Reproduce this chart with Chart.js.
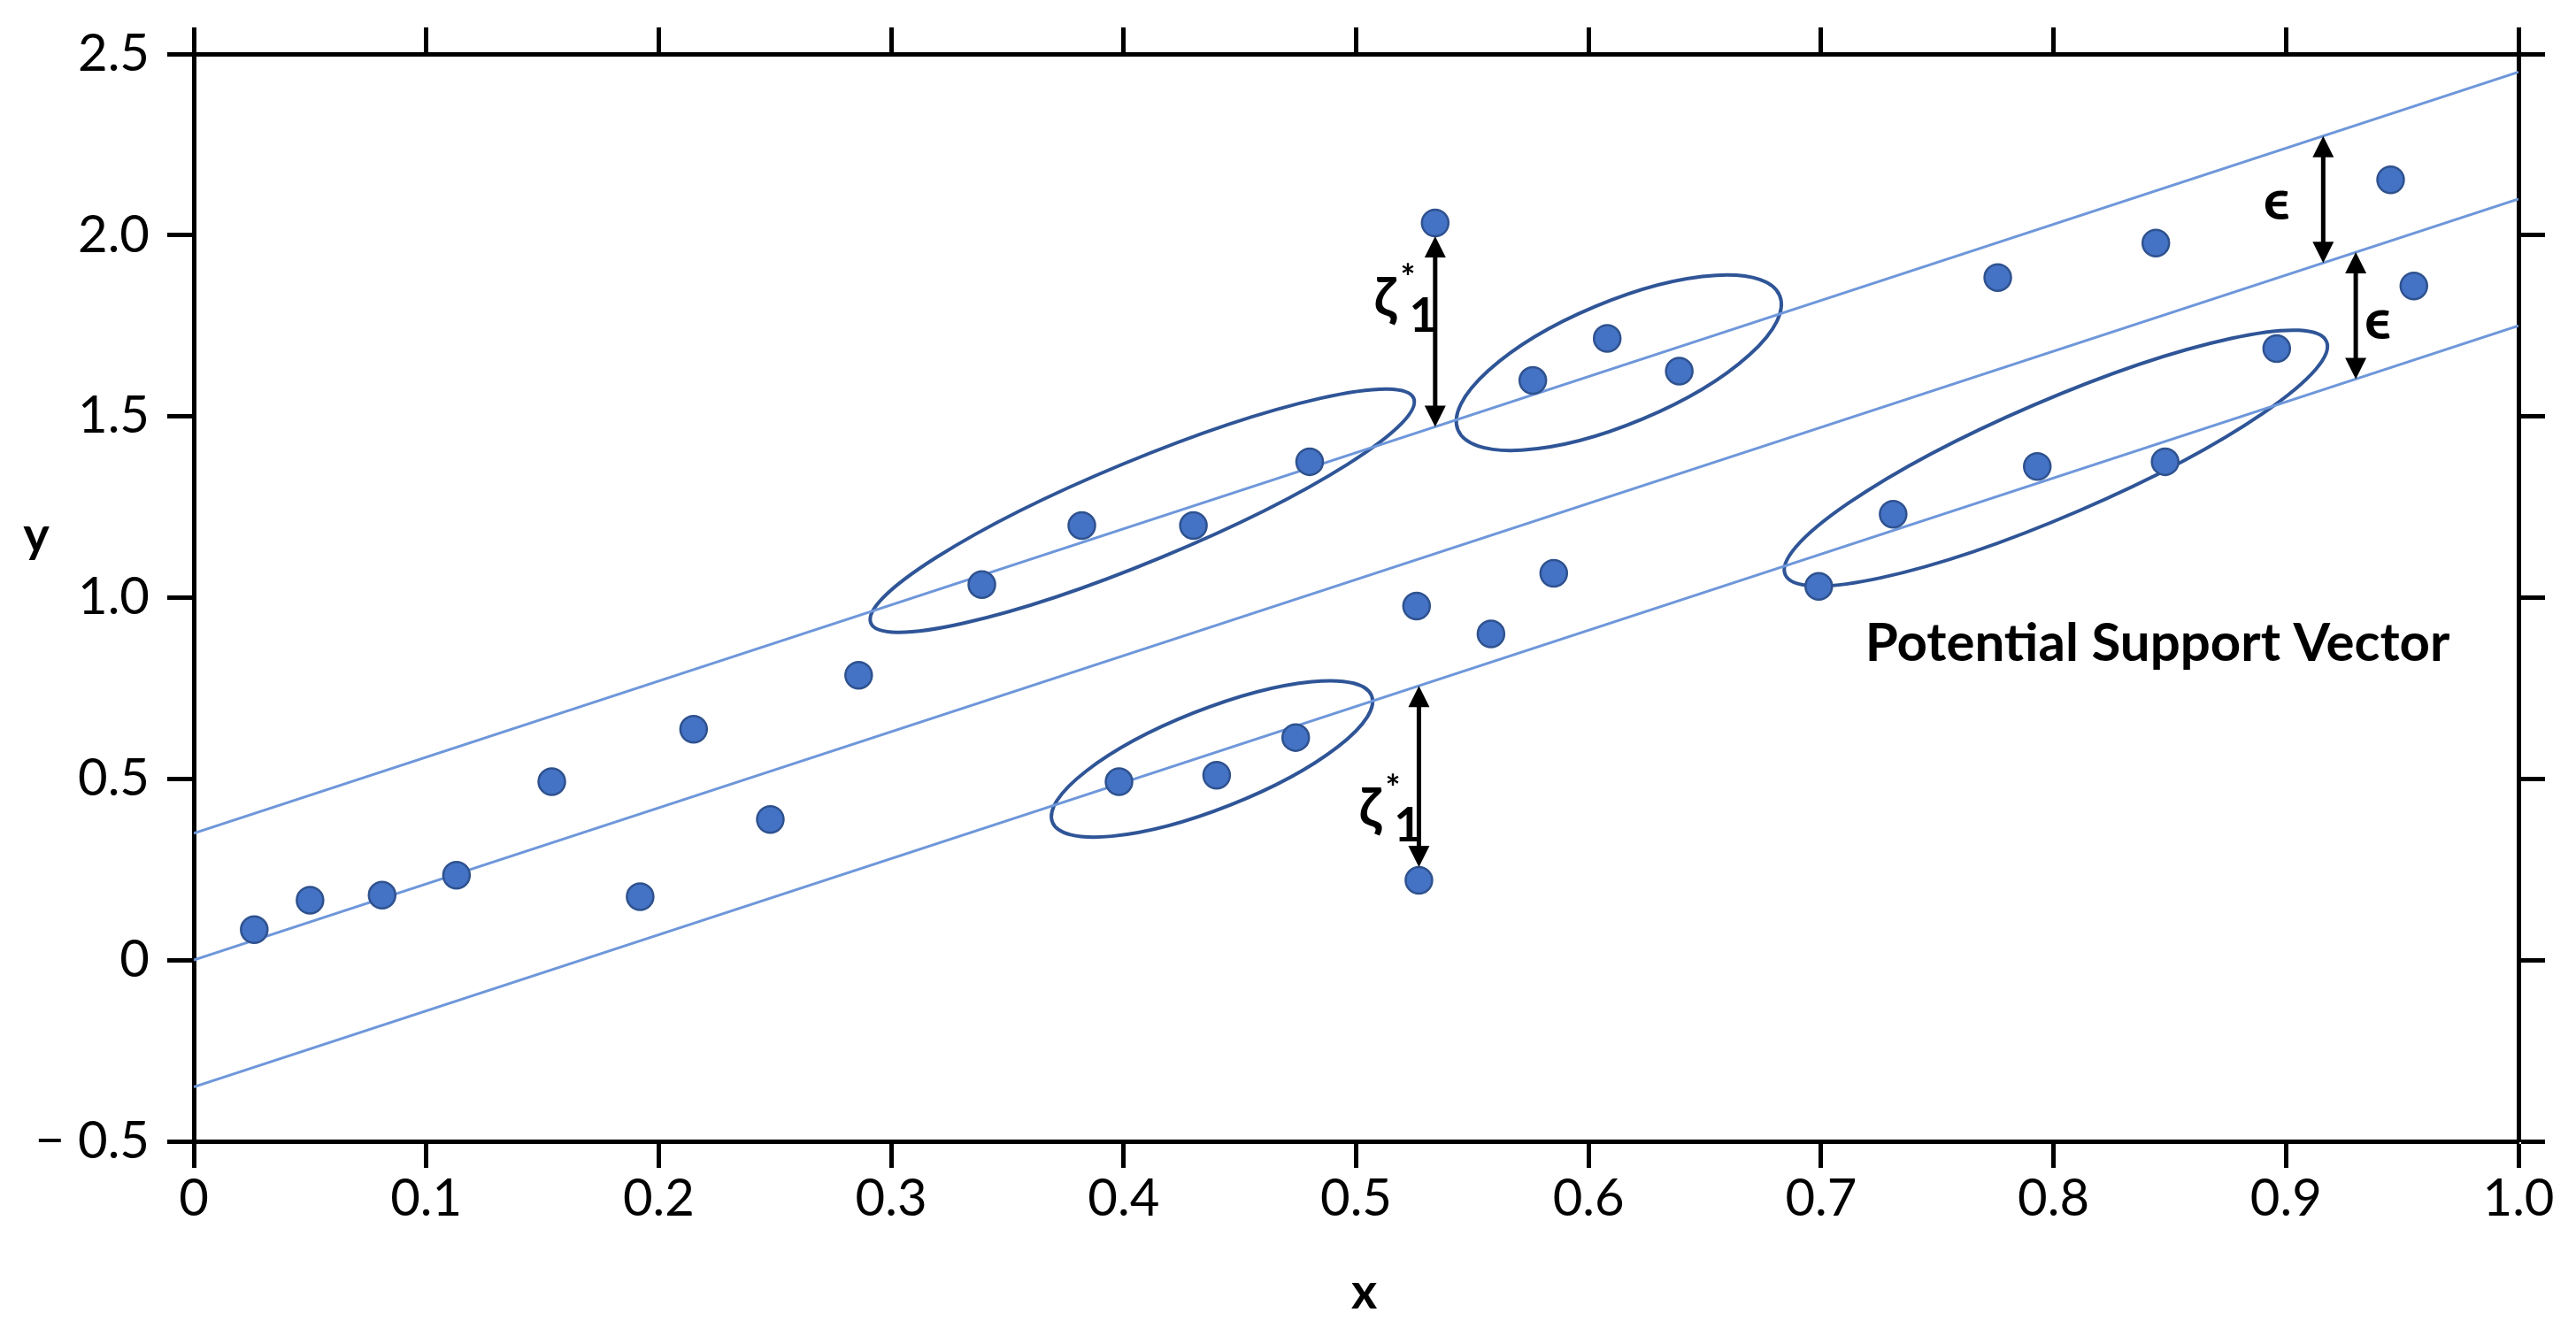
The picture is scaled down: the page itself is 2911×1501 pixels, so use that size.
<!DOCTYPE html>
<html>
<head>
<meta charset="utf-8">
<script src="https://cdn.jsdelivr.net/npm/chart.js@4.4.1/dist/chart.umd.min.js"></script>
<style>
  html, body { margin: 0; padding: 0; background: #fff; }
  #wrap { width: 2911px; height: 1501px; }
</style>
</head>
<body>
<div id="wrap"><canvas id="svrChart" width="2911" height="1501"></canvas></div>
<script>
// observed samples (x, y)
const xValues = [0.026, 0.050, 0.081, 0.113, 0.154, 0.192, 0.215, 0.248, 0.286, 0.339,
                 0.382, 0.430, 0.480, 0.398, 0.440, 0.474, 0.526, 0.558, 0.585, 0.527,
                 0.534, 0.576, 0.608, 0.639, 0.699, 0.731, 0.793, 0.848, 0.896, 0.776,
                 0.844, 0.945, 0.955];
const yValues = [0.084, 0.165, 0.179, 0.234, 0.492, 0.175, 0.637, 0.388, 0.786, 1.036,
                 1.199, 1.199, 1.375, 0.492, 0.510, 0.614, 0.977, 0.900, 1.067, 0.220,
                 2.034, 1.599, 1.715, 1.625, 1.031, 1.230, 1.362, 1.375, 1.687, 1.883,
                 1.978, 2.153, 1.860];

// regression line and the two epsilon-tube edges, given at x = 0 and x = 1
const lineX = [0, 1];
const centerLine = [0.0, 2.1];
const upperLine = [0.35, 2.45];
const lowerLine = [-0.35, 1.75];

const xTickLabels = ["0", "0.1", "0.2", "0.3", "0.4", "0.5", "0.6", "0.7", "0.8", "0.9", "1.0"];
const yTickLabels = ["\u2212 0.5", "0", "0.5", "1.0", "1.5", "2.0", "2.5"];

const FONT = "Lato, 'DejaVu Sans', sans-serif";
const POINT_R = 15;

function lineAt(vals, x) {
  return vals[0] + (vals[1] - vals[0]) * (x - lineX[0]) / (lineX[1] - lineX[0]);
}

function toXY(ys) {
  return lineX.map((x, i) => ({ x: x, y: ys[i] }));
}

// ellipses around the potential support vectors (center in data units, radii in px)
const ellipses = [
  { cx: 0.408, cy: 1.240, rx: 332, ry: 57, rot: -22.5 },
  { cx: 0.613, cy: 1.648, rx: 197, ry: 69, rot: -22.7 },
  { cx: 0.438, cy: 0.555, rx: 194, ry: 56, rot: -21.6 },
  { cx: 0.801, cy: 1.385, rx: 333, ry: 65, rot: -23.3 }
];

function drawHead(ctx, x, y, dir) {
  ctx.beginPath();
  ctx.moveTo(x, y);
  ctx.lineTo(x - 12, y + dir * 24);
  ctx.lineTo(x + 12, y + dir * 24);
  ctx.closePath();
  ctx.fill();
}

function drawArrow(ctx, x, y1, y2) {
  ctx.save();
  ctx.strokeStyle = "#000";
  ctx.fillStyle = "#000";
  ctx.lineWidth = 5;
  ctx.beginPath();
  ctx.moveTo(x, y1 + 20);
  ctx.lineTo(x, y2 - 20);
  ctx.stroke();
  drawHead(ctx, x, y1, 1);
  drawHead(ctx, x, y2, -1);
  ctx.restore();
}

function drawZeta(ctx, x, y) {
  ctx.save();
  ctx.fillStyle = "#000";
  ctx.textAlign = "center";
  ctx.textBaseline = "middle";
  ctx.font = "bold 62px " + FONT;
  ctx.fillText("\u03B6", x, y);
  ctx.font = "bold 40px " + FONT;
  ctx.fillText("*", x + 26, y - 22);
  ctx.font = "bold 54px " + FONT;
  ctx.fillText("1", x + 43, y + 20);
  ctx.restore();
}

const overlay = {
  id: "overlay",
  beforeDatasetsDraw(chart) {
    const ctx = chart.ctx, xs = chart.scales.x, ys = chart.scales.y;
    ctx.save();
    ctx.strokeStyle = "#2F5597";
    ctx.lineWidth = 4;
    ellipses.forEach(e => {
      ctx.beginPath();
      ctx.ellipse(xs.getPixelForValue(e.cx), ys.getPixelForValue(e.cy), e.rx, e.ry,
                  e.rot * Math.PI / 180, 0, Math.PI * 2);
      ctx.stroke();
    });
    ctx.restore();
  },
  afterDatasetsDraw(chart) {
    const ctx = chart.ctx, xs = chart.scales.x, ys = chart.scales.y;

    // slack arrows for the two outliers
    const xa = xValues[20];
    drawArrow(ctx, xs.getPixelForValue(xa),
              ys.getPixelForValue(yValues[20]) + POINT_R,
              ys.getPixelForValue(lineAt(upperLine, xa)));
    const xb = xValues[19];
    drawArrow(ctx, xs.getPixelForValue(xb),
              ys.getPixelForValue(lineAt(lowerLine, xb)),
              ys.getPixelForValue(yValues[19]) - POINT_R);

    // epsilon arrows
    const e1 = 0.916, e2 = 0.930;
    drawArrow(ctx, xs.getPixelForValue(e1),
              ys.getPixelForValue(lineAt(upperLine, e1)),
              ys.getPixelForValue(lineAt(centerLine, e1)));
    drawArrow(ctx, xs.getPixelForValue(e2),
              ys.getPixelForValue(lineAt(centerLine, e2)),
              ys.getPixelForValue(lineAt(lowerLine, e2)));

    drawZeta(ctx, xs.getPixelForValue(0.5124), ys.getPixelForValue(1.826));
    drawZeta(ctx, xs.getPixelForValue(0.5059), ys.getPixelForValue(0.418));

    ctx.save();
    ctx.fillStyle = "#000";
    ctx.textAlign = "center";
    ctx.textBaseline = "middle";
    ctx.font = "bold 64px " + FONT;
    ctx.fillText("\u03F5", xs.getPixelForValue(0.896), ys.getPixelForValue(2.095));
    ctx.fillText("\u03F5", xs.getPixelForValue(0.9395), ys.getPixelForValue(1.765));
    ctx.font = "bold 60px " + FONT;
    ctx.fillText("Potential Support Vector", xs.getPixelForValue(0.8447), ys.getPixelForValue(0.872));
    ctx.restore();
  },
  afterDraw(chart) {
    const ctx = chart.ctx, a = chart.chartArea;
    ctx.save();
    ctx.fillStyle = "#000";
    ctx.textAlign = "center";
    ctx.textBaseline = "middle";
    ctx.font = "bold 56px " + FONT;
    ctx.fillText("x", (a.left + a.right) / 2 + 9, 1461);
    ctx.fillText("y", 41, 606);
    ctx.restore();
  }
};

const tickFont = { family: FONT, size: 58 };
const gridOpts = { drawOnChartArea: false, drawTicks: true, tickLength: 30, tickWidth: 5, tickColor: "#000" };
const borderOpts = { display: true, color: "#000", width: 5 };

new Chart(document.getElementById("svrChart"), {
  type: "scatter",
  data: {
    datasets: [
      {
        label: "samples",
        data: xValues.map((x, i) => ({ x: x, y: yValues[i] })),
        pointRadius: POINT_R,
        pointBackgroundColor: "#4472C4",
        pointBorderColor: "#2F528F",
        pointBorderWidth: 2.5,
        order: 0
      },
      { label: "upper", data: toXY(upperLine), showLine: true, borderColor: "#6E97DA", borderWidth: 3, pointRadius: 0, order: 1 },
      { label: "center", data: toXY(centerLine), showLine: true, borderColor: "#6E97DA", borderWidth: 3, pointRadius: 0, order: 1 },
      { label: "lower", data: toXY(lowerLine), showLine: true, borderColor: "#6E97DA", borderWidth: 3, pointRadius: 0, order: 1 }
    ]
  },
  options: {
    responsive: false,
    animation: false,
    layout: { padding: 0 },
    plugins: { legend: { display: false }, tooltip: { enabled: false } },
    scales: {
      x: {
        type: "linear", position: "bottom", min: 0, max: 1,
        ticks: { stepSize: 0.1, autoSkip: false, maxRotation: 0, color: "#000", font: tickFont, padding: 0,
                 callback: (v, i) => xTickLabels[i] },
        grid: gridOpts, border: borderOpts,
        afterFit: s => { s.height = 211; }
      },
      x2: {
        type: "linear", position: "top", min: 0, max: 1,
        ticks: { stepSize: 0.1, display: false },
        grid: gridOpts, border: borderOpts,
        afterFit: s => { s.height = 61; }
      },
      y: {
        type: "linear", position: "left", min: -0.5, max: 2.5,
        ticks: { stepSize: 0.5, color: "#000", font: tickFont, padding: 20,
                 callback: (v, i) => yTickLabels[i] },
        grid: gridOpts, border: borderOpts,
        afterFit: s => { s.width = 219; }
      },
      y2: {
        type: "linear", position: "right", min: -0.5, max: 2.5,
        ticks: { stepSize: 0.5, display: false },
        grid: gridOpts, border: borderOpts,
        afterFit: s => { s.width = 65; }
      }
    }
  },
  plugins: [overlay]
});
</script>
</body>
</html>
